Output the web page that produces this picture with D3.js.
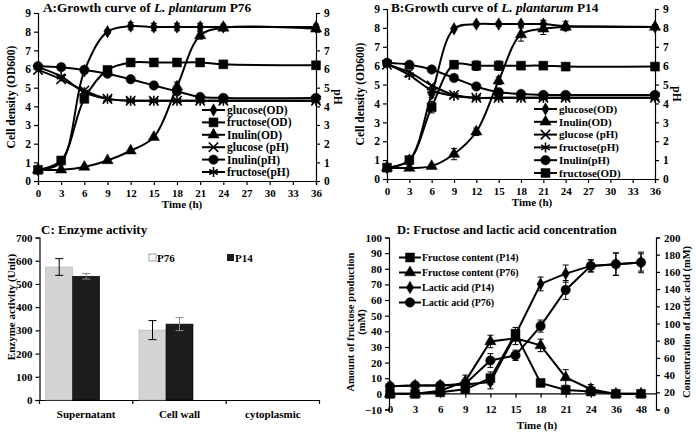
<!DOCTYPE html>
<html><head><meta charset="utf-8">
<script src="https://cdn.jsdelivr.net/npm/d3@7"></script>
<style>
body{margin:0;background:#fff}
svg text{font-family:"Liberation Serif","Times New Roman",serif;font-weight:bold;fill:#000}
</style></head><body>
<svg id="c" width="696" height="433"></svg>
<script>
// ---------- Data ----------
const timeAB = [0,3,6,9,12,15,18,21,24,36];
const xTicksAB = [0,3,6,9,12,15,18,21,24,27,30,33,36];
const yTicksAB = [0,1,2,3,4,5,6,7,8,9];

// Panel A (P76)
const aGlucoseOD  = [0.6,1.0,5.9,8.0,8.3,8.25,8.25,8.25,8.25,8.25];
const aFructoseOD = [0.6,1.1,4.4,5.95,6.35,6.35,6.35,6.35,6.25,6.2];
const aInulinOD   = [0.6,0.6,0.75,1.1,1.62,2.35,5.05,7.8,8.2,8.15];
const aGlucosePH  = [5.95,5.45,4.85,4.4,4.3,4.3,4.3,4.3,4.3,4.3];
const aInulinPH   = [6.15,6.1,5.95,5.75,5.45,5.12,4.8,4.5,4.45,4.45];
const aFructosePH = [6.1,5.6,4.75,4.4,4.3,4.3,4.3,4.3,4.3,4.3];
const aGlucoseODErr = [0,0,0.15,0.1,0.2,0.2,0.2,0.2,0.15,0.15];
const aInulinODErr  = [0,0,0,0,0,0,0.25,0.2,0.1,0.1];

// Panel B (P14)
const bGlucoseOD  = [0.6,1.0,4.5,7.95,8.2,8.2,8.2,8.2,8.1,8.05];
const bInulinOD   = [0.6,0.58,0.68,1.32,2.5,5.2,7.65,7.95,8.05,8.05];
const bGlucosePH  = [6.05,5.65,4.95,4.45,4.3,4.3,4.3,4.3,4.3,4.3];
const bFructosePH = [6.1,5.5,4.7,4.4,4.3,4.3,4.3,4.3,4.3,4.3];
const bInulinPH   = [6.15,6.05,5.8,5.35,4.9,4.6,4.5,4.45,4.45,4.45];
const bFructoseOD = [0.6,1.0,3.8,6.05,6.0,6.0,6.0,6.0,5.95,5.95];
const bGlucoseODErr = [0,0,0.2,0,0.1,0.1,0.1,0.2,0.25,0.1];
const bInulinODErr  = [0,0,0.1,0.3,0.2,0.2,0.35,0.3,0.1,0.1];
const bFructoseODErr= [0,0.2,0.3,0.2,0.25,0.25,0,0,0.1,0.1];

// Panel C
const cCategories = ["Supernatant","Cell wall","cytoplasmic"];
const cSeries = ["P76","P14"];
const cP76 = [573,301,0];
const cP14 = [533,327,0];
const cP76Err = [36,41,0];
const cP14Err = [12,28,0];
const cYTicks = [0,100,200,300,400,500,600,700];

// Panel D
const dTime = ["0","3","6","9","12","15","18","21","24","36","48"];
const dFructoseP14 = [0,0,1,3,10,38.5,7,2.5,1.5,0,0];
const dFructoseP76 = [0,0,2,8,33.5,35.5,31,10.5,3,0,0];
const dLacticP14   = [27,28,28,29,32,87,146,158,167,169,171];
const dLacticP76   = [27,28,28,30,57,63,97,139,167,169,171];
const dFructoseP14Err = [0,0,0,1,4,4,1,1,1,0,0];
const dFructoseP76Err = [0,0,0,4,4,4,4,5,3,0,0];
const dLacticP14Err   = [0,0,0,0,8,0,8,10,7,13,12];
const dLacticP76Err   = [0,0,0,0,8,6,7,11,7,13,10];
const dLeftTicks = [-10,0,10,20,30,40,50,60,70,80,90,100];
const dRightTicks = [0,20,40,60,80,100,120,140,160,180,200];

// ---------- Helpers ----------
const svg = d3.select("#c");
const SYM = {
  diamond: {type:d3.symbolDiamond, size:45, fill:true},
  square:  {type:d3.symbolSquare, size:80, fill:true},
  triangle:{type:d3.symbolTriangle, size:55, fill:true},
  times:   {type:d3.symbolTimes, size:60, fill:false},
  asterisk:{type:d3.symbolAsterisk, size:70, fill:false},
  circle:  {type:d3.symbolCircle, size:70, fill:true}
};
function marker(g, kind, x, y){
  const s = SYM[kind];
  g.append("path").attr("d", d3.symbol().type(s.type).size(s.size)())
    .attr("transform",`translate(${x},${y})`)
    .attr("fill", s.fill ? "#000" : "none")
    .attr("stroke","#000").attr("stroke-width", s.fill?0.5:1.6);
}
function styleAxis(g, fs){
  g.selectAll("path,line").attr("stroke","#000").attr("stroke-width",1.2);
  g.selectAll("text").attr("font-size",fs).attr("fill","#000")
   .style("font-family",'"Liberation Serif",serif').style("font-weight","bold");
}
function errBars(g, xs, ys, errs, x, y, xf){
  xs.forEach((t,i)=>{
    const e = errs[i]; if(!e) return;
    const cx = xf(t,i);
    const y1 = y(ys[i]-e), y2 = y(ys[i]+e);
    g.append("line").attr("x1",cx).attr("x2",cx).attr("y1",y1).attr("y2",y2).attr("stroke","#000").attr("stroke-width",1);
    [y1,y2].forEach(yy=>g.append("line").attr("x1",cx-3).attr("x2",cx+3).attr("y1",yy).attr("y2",yy).attr("stroke","#000").attr("stroke-width",1));
  });
}

// ---------- Growth panels ----------
function growthPanel(opt){
  const g = svg.append("g");
  const x = d3.scaleLinear().domain([0,36]).range(opt.xr);
  const y = d3.scaleLinear().domain([0,9]).range(opt.yr);
  const yR = d3.scaleLinear().domain([0,9]).range(opt.yr);
  const xa = g.append("g").attr("transform",`translate(0,${opt.yr[0]})`)
    .call(d3.axisBottom(x).tickValues(xTicksAB).tickSize(4).tickPadding(4));
  styleAxis(xa, 11);
  const ya = g.append("g").attr("transform",`translate(${opt.xr[0]},0)`)
    .call(d3.axisLeft(y).tickValues(yTicksAB).tickSize(4).tickPadding(3));
  styleAxis(ya, 11.5);
  const yb = g.append("g").attr("transform",`translate(${opt.xr[1]},0)`)
    .call(d3.axisRight(yR).tickValues(yTicksAB).tickSize(4).tickPadding(4));
  styleAxis(yb, 11.5);
  const line = (arr)=>d3.line().x((d,i)=>x(timeAB[i])).y(d=>y(d)).curve(d3.curveCatmullRom.alpha(0.5))(arr);
  opt.series.forEach(s=>{
    g.append("path").attr("d", line(s.v)).attr("fill","none").attr("stroke","#000").attr("stroke-width",2);
  });
  opt.series.forEach(s=>{
    if(s.err) errBars(g, timeAB, s.v, s.err, x, y, t=>x(t));
    s.v.forEach((v,i)=>marker(g, s.m, x(timeAB[i]), y(v)));
  });
  // legend
  opt.series.forEach((s,i)=>{
    const ly = opt.leg.y + i*opt.leg.dy;
    g.append("line").attr("x1",opt.leg.x).attr("x2",opt.leg.x+23).attr("y1",ly).attr("y2",ly).attr("stroke","#000").attr("stroke-width",2);
    marker(g, s.m, opt.leg.x+11.5, ly);
    g.append("text").attr("x",opt.leg.x+25).attr("y",ly).attr("dy","0.35em").attr("font-size",opt.leg.fs).text(s.name);
  });
  // titles
  const t = g.append("text").attr("x",opt.title.x).attr("y",opt.title.y).attr("font-size",13.3);
  t.append("tspan").text(opt.title.pre);
  t.append("tspan").attr("font-style","italic").text("L. plantarum");
  t.append("tspan").text(" "+opt.title.post);
  g.append("text").attr("x",(opt.xr[0]+opt.xr[1])/2 + opt.timeDx).attr("y",opt.yr[0]+27).attr("text-anchor","middle").attr("font-size",11).text("Time (h)");
  const cy = (opt.yr[0]+opt.yr[1])/2;
  g.append("text").attr("transform",`translate(${opt.xr[0]-23},${cy}) rotate(-90)`).attr("text-anchor","middle").attr("font-size",11.5).text("Cell density (OD600)");
  g.append("text").attr("transform",`translate(${opt.xr[1]+18},${cy}) rotate(90)`).attr("text-anchor","middle").attr("font-size",11.5).text("pH");
}

growthPanel({
  xr:[38,316], yr:[181,13], timeDx:5,
  title:{x:43,y:12,pre:"A:Growth curve of ",post:"P76"},
  leg:{x:202,y:110,dy:12.4,fs:11.5},
  series:[
    {name:"glucose(OD)", v:aGlucoseOD, m:"diamond", err:aGlucoseODErr},
    {name:"fructose(OD)", v:aFructoseOD, m:"square"},
    {name:"Inulin(OD)", v:aInulinOD, m:"triangle", err:aInulinODErr},
    {name:"glucose (pH)", v:aGlucosePH, m:"times"},
    {name:"Inulin(pH)", v:aInulinPH, m:"circle"},
    {name:"fructose(pH)", v:aFructosePH, m:"asterisk"}
  ]
});
growthPanel({
  xr:[387,655], yr:[179,9], timeDx:11,
  title:{x:391,y:12,pre:"B:Growth curve of ",post:"P14"},
  leg:{x:534,y:109,dy:12.8,fs:11},
  series:[
    {name:"glucose(OD)", v:bGlucoseOD, m:"diamond", err:bGlucoseODErr},
    {name:"Inulin(OD)", v:bInulinOD, m:"triangle", err:bInulinODErr},
    {name:"glucose (pH)", v:bGlucosePH, m:"times"},
    {name:"fructose(pH)", v:bFructosePH, m:"asterisk"},
    {name:"Inulin(pH)", v:bInulinPH, m:"circle"},
    {name:"fructose(OD)", v:bFructoseOD, m:"square", err:bFructoseODErr}
  ]
});

// ---------- Panel C ----------
(function(){
  const g = svg.append("g");
  const x = d3.scaleBand().domain(cCategories).range([39.5,319.5]).paddingInner(0).paddingOuter(0);
  const inner = d3.scaleBand().domain(cSeries.concat(["_"])).range([0,x.bandwidth()]).paddingInner(0).paddingOuter(0.23);
  const y = d3.scaleLinear().domain([0,700]).range([400,237.5]);
  const ya = g.append("g").attr("transform","translate(39.5,0)").call(d3.axisLeft(y).tickValues(cYTicks).tickSize(4).tickPadding(3));
  styleAxis(ya, 11);
  const xa = g.append("g").attr("transform","translate(0,400)").call(d3.axisBottom(x).tickSize(0).tickPadding(10));
  styleAxis(xa, 11);
  [0,1,2,3].forEach(i=>{
    const xx = 39.5 + i*x.bandwidth();
    g.append("line").attr("x1",xx).attr("x2",xx).attr("y1",400).attr("y2",404).attr("stroke","#000").attr("stroke-width",1.2);
  });
  const vals = {P76:cP76, P14:cP14}, errs = {P76:cP76Err, P14:cP14Err};
  const fill = {P76:"#d4d4d4", P14:"#1c1c1c"};
  cSeries.forEach(s=>{
    cCategories.forEach((c,i)=>{
      const v = vals[s][i]; if(!v) return;
      g.append("rect").attr("x",x(c)+inner(s)).attr("width",inner.bandwidth()).attr("y",y(v)).attr("height",400-y(v))
        .attr("fill",fill[s]).attr("stroke", s==="P76"?"#b0b0b0":"#000").attr("stroke-width",0.6);
    });
  });
  cSeries.forEach(s=>{
    cCategories.forEach((c,i)=>{
      const e = errs[s][i]; if(!e) return;
      const cx = x(c)+inner(s)+inner.bandwidth()/2;
      const v = vals[s][i];
      const y1=y(v-e), y2=y(v+e);
      const col = s==="P76"?"#000":"#888";
      g.append("line").attr("x1",cx).attr("x2",cx).attr("y1",y1).attr("y2",y2).attr("stroke",col).attr("stroke-width",1);
      [y1,y2].forEach(yy=>g.append("line").attr("x1",cx-4).attr("x2",cx+4).attr("y1",yy).attr("y2",yy).attr("stroke",col).attr("stroke-width",1));
    });
  });
  g.append("text").attr("x",41).attr("y",234).attr("font-size",13).text("C: Enzyme activity");
  g.append("rect").attr("x",149).attr("y",254).attr("width",7).attr("height",7).attr("fill","#fff").attr("stroke","#888").attr("stroke-width",0.8);
  g.append("text").attr("x",157).attr("y",261.5).attr("font-size",11).text("P76");
  g.append("rect").attr("x",227).attr("y",254).attr("width",7).attr("height",7).attr("fill","#1c1c1c");
  g.append("text").attr("x",235).attr("y",261.5).attr("font-size",11).text("P14");
  g.append("text").attr("transform","translate(15,307) rotate(-90)").attr("text-anchor","middle").attr("font-size",11).text("Enzyme activity (Unit)");
})();

// ---------- Panel D ----------
(function(){
  const g = svg.append("g");
  const x = d3.scalePoint().domain(dTime).range([390,641]);
  const yL = d3.scaleLinear().domain([-10,100]).range([409.5,237.5]);
  const yR = d3.scaleLinear().domain([0,200]).range([409.5,237.5]);
  const ya = g.append("g").attr("transform","translate(389,0)").call(d3.axisLeft(yL).tickValues(dLeftTicks).tickSize(4).tickPadding(3));
  styleAxis(ya, 11);
  const yb = g.append("g").attr("transform","translate(656,0)").call(d3.axisRight(yR).tickValues(dRightTicks).tickSize(4).tickPadding(4));
  styleAxis(yb, 11);
  // x axis at y=0
  g.append("line").attr("x1",389).attr("x2",656).attr("y1",yL(0)).attr("y2",yL(0)).attr("stroke","#000").attr("stroke-width",1.2);
  const xa = g.append("g").attr("transform",`translate(0,${yL(0)})`).call(d3.axisBottom(x).tickSize(4).tickPadding(0));
  styleAxis(xa, 11);
  xa.select(".domain").remove();
  xa.selectAll("text").attr("y", yL(-10)-yL(0)).attr("dy","0.35em");
  const S = [
    {name:"Fructose content (P14)", v:dFructoseP14, e:dFructoseP14Err, m:"square", y:yL},
    {name:"Fructose content (P76)", v:dFructoseP76, e:dFructoseP76Err, m:"triangle", y:yL},
    {name:"Lactic acid (P14)", v:dLacticP14, e:dLacticP14Err, m:"diamond", y:yR},
    {name:"Lactic acid (P76)", v:dLacticP76, e:dLacticP76Err, m:"circle", y:yR}
  ];
  S.forEach(s=>{
    g.append("path").attr("d", d3.line().x((d,i)=>x(dTime[i])).y(d=>s.y(d))(s.v)).attr("fill","none").attr("stroke","#000").attr("stroke-width",2);
  });
  S.forEach(s=>{
    errBars(g, dTime, s.v, s.e, x, s.y, t=>x(t));
    s.v.forEach((v,i)=>marker(g, s.m, x(dTime[i]), s.y(v)));
  });
  S.forEach((s,i)=>{
    const ly = 257.5 + i*15;
    g.append("line").attr("x1",399).attr("x2",421).attr("y1",ly).attr("y2",ly).attr("stroke","#000").attr("stroke-width",2);
    marker(g, s.m, 410, ly);
    g.append("text").attr("x",422).attr("y",ly).attr("dy","0.35em").attr("font-size",10).text(s.name);
  });
  g.append("text").attr("x",397).attr("y",234).attr("font-size",12.5).text("D: Fructose and lactic acid concentration");
  g.append("text").attr("x",537).attr("y",429).attr("text-anchor","middle").attr("font-size",11).text("Time (h)");
  g.append("text").attr("transform","translate(354,322) rotate(-90)").attr("text-anchor","middle").attr("font-size",10.5).text("Amount of fructose production");
  g.append("text").attr("transform","translate(365,322) rotate(-90)").attr("text-anchor","middle").attr("font-size",10.5).text("(mM)");
  g.append("text").attr("transform","translate(690,322) rotate(-90)").attr("text-anchor","middle").attr("font-size",10.5).text("Concentration of lactic acid (mM)");
})();
</script></body></html>
